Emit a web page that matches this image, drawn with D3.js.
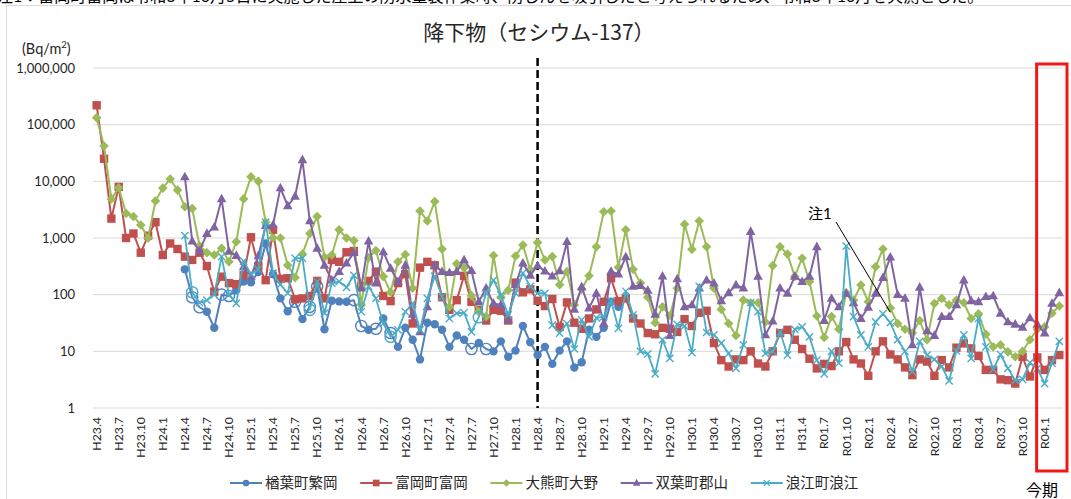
<!DOCTYPE html>
<html><head><meta charset="utf-8">
<script src="https://cdn.jsdelivr.net/npm/d3@7"></script>
<style>
body{margin:0;background:#fff}
svg{display:block}
text{font-family:Lato,"Noto Sans CJK JP",sans-serif;fill:#262626}
</style>
</head><body>
<svg id="c" width="1071" height="499"></svg>
<script>
// ---------------- data ----------------
const title = "降下物（セシウム-137）";
const unitLabel = "(Bq/m";
const seriesNames = ["楢葉町繁岡","富岡町富岡","大熊町大野","双葉町郡山","浪江町浪江"];
const seriesColors = ["#4F81BD","#C0504D","#9BBB59","#8064A2","#4BACC6"];
const nMonths = 132; // H23.4 .. R04.3
const tickLabels = ["H23.4","H23.7","H23.10","H24.1","H24.4","H24.7","H24.10","H25.1","H25.4","H25.7","H25.10",
  "H26.1","H26.4","H26.7","H26.10","H27.1","H27.4","H27.7","H27.10","H28.1","H28.4","H28.7","H28.10",
  "H29.1","H29.4","H29.7","H29.10","H30.1","H30.4","H30.7","H30.10","H31.1","H31.4","R01.7","R01.10",
  "R02.1","R02.4","R02.7","R02.10","R03.1","R03.4","R03.7","R03.10","R04.1"];
const yTicks = [1,10,100,1000,10000,100000,1000000];

const naraha = [null,null,null,null,null,null,null,null,null,null,
  null,null,280,90,60,50,26,100,95,120,
  170,165,250,800,230,86,51,75,37,61,
  140,24.5,78,76,75,80,28,24,25,38,
  21,12,26,16,7.2,32,30,24,12,19,
  16,11,14,11,10,15,8,10.3,28,14.5,
  8.6,12,6,10.3,15,5.2,6.4,24,18,26,
  75,61];
const narahaHollow = [13,14,17,18,27,29,30,35,36,38,40,51,53];

const tomioka = [220000,25000,2200,8000,1000,1200,550,1100,1900,500,
  800,640,470,410,550,320,113,208,160,153,
  220,1030,320,180,1400,190,195,83,86,95,
  175,86,410,380,560,590,142,175,255,95,
  77,160,230,31,300,380,330,90,54,80,
  215,75,54,35,54,52,35,163,110,124,
  78,63,84,27,73,32,25,38,55,75,
  195,77,86,38,31,21,20,26,25,22,
  37,28,48,52,14,7,5.4,7.2,7,10,
  6.1,5.4,10,21,24,16,11,7.4,5,6,
  5.5,10,14.6,7.2,6.1,3.7,10,15,8.8,7.2,
  5.2,3.8,7.2,6.6,3.7,7,5.2,11.6,13.8,11.3,
  8.3,4.7,4.7,3.2,3.1,2.7,8,3.6,7.8,4.7,
  7,8.6];

const okuma = [133000,42000,4900,7700,2700,2400,1700,1000,4500,7600,
  11000,7000,3550,3300,730,550,500,660,380,860,
  4900,12000,10000,1900,1000,1000,330,200,520,1200,
  2400,460,500,1400,1000,900,66,450,600,210,
  110,380,510,130,3000,2000,4400,640,61,350,
  300,96,50,41,490,90,120,480,750,275,
  830,410,470,150,255,66,125,215,700,2900,
  3000,305,1400,280,160,90,32,61,43,130,
  1750,630,2000,700,130,55,31,19,80,72,
  72,33,325,700,520,210,440,170,42,17.5,
  41,24.5,108,80,148,75,310,640,58,31,
  24.5,21,35,16,70,86,66,80,72,38,
  46,20,12,13,9.8,8,10,16,24.5,27,
  47,63];

const futaba = [null,null,null,null,null,null,null,null,null,null,
  null,null,12000,880,590,1200,1550,4900,580,490,
  310,210,485,1650,1700,7650,3700,5450,24000,2000,
  660,330,180,255,360,550,130,880,160,570,
  290,170,330,45,22,61,330,255,245,255,
  410,265,75,130,70,66,36,150,360,220,
  325,260,212,262,860,55,138,58,106,31,
  258,230,465,140,145,119,45,212,19,190,
  61,66,130,180,160,78,108,148,130,1300,
  210,19.5,34,130,105,210,170,210,700,35,
  86,61,105,72,38,60,105,200,460,100,
  86,13,135,23,19,41,41,66,180,78,
  75,92,95,47,33,30,26.5,39,30,21,
  70,108];

const namie = [null,null,null,null,null,null,null,null,null,null,
  null,null,1100,110,72,80,100,470,100,70,
  390,230,280,1900,240,150,106,440,440,54,
  170,47,160,170,135,220,50,140,86,31,
  18,24,50,70,24,86,210,92,38,47,
  48,22,40,106,180,98,44,106,240,140,
  106,106,29,21,31,11,36,18,39,41,
  78,25.5,115,44,10,9,4,16,7.5,30,
  28,9.5,140,21.5,19.5,14,9.2,5,13,72,
  50,9.2,10,22,8.6,24.5,27,18,7,4,
  10,6.2,720,41,19.5,12,33,46,32,16,
  10,4.4,15,8.6,7.2,5.4,3,10.2,19.5,7.5,
  38,12,4.8,8.8,5,3.1,3.2,6.3,5,2.7,
  6.2,15];
const namieHollow = [13,29,40,52];

const dividerIndex = 60;      // H28.4
const currentStart = 129;     // R04.1 (今期)
const note1Index = 108, note1Value = 49;

// ---------------- layout ----------------
const svg = d3.select("#c");
const L = 93, R = 1063, T = 68, B = 408;
const x = d3.scaleBand().domain(d3.range(nMonths)).range([L, R]);
const cx = i => x(i) + x.bandwidth() / 2;
const y = d3.scaleLog().domain([1, 1e6]).range([B, T]);

svg.append("rect").attr("width",1071).attr("height",499).attr("fill","#fff");
// outer chart frame
svg.append("rect").attr("x",6.5).attr("y",5.5).attr("width",1100).attr("height",600)
  .attr("fill","none").attr("stroke","#d9d9d9");
// note line at the very top (cut off by the page edge, as in the source)
svg.append("text").attr("x",-3).attr("y",2).attr("font-size",16).style("fill","#000")
  .text("注1：富岡町富岡は令和3年10月5日に実施した屋上の防水塗装作業時、防じんを吸引したと考えられるため、令和3年10月を欠測とした。");

// gridlines
svg.append("g").selectAll("line").data(yTicks).join("line")
  .attr("x1",L).attr("x2",R).attr("y1",d=>y(d)).attr("y2",d=>y(d))
  .attr("stroke","#d9d9d9").attr("stroke-width",1);

// y axis labels
const yAxis = d3.axisLeft(y).tickValues(yTicks).tickFormat(d3.format(",")).tickSize(0).tickPadding(18);
const gy = svg.append("g").attr("transform",`translate(${L},0)`).call(yAxis);
gy.select(".domain").remove();
gy.selectAll("text").attr("font-size",13).style("font-family","Lato,sans-serif").style("fill","#262626");

// unit label
const ul = svg.append("text").attr("x",22).attr("y",54).attr("font-size",14.5);
ul.append("tspan").text(unitLabel);
ul.append("tspan").attr("dy",-6).attr("font-size",9.5).text("2");
ul.append("tspan").attr("dy",6).text(")");

// title
svg.append("text").attr("x",539).attr("y",40).attr("text-anchor","middle").attr("font-size",21)
  .style("font-family",'"Noto Sans CJK JP",sans-serif').text(title);

// x tick labels
svg.append("g").selectAll("text").data(tickLabels).join("text")
  .attr("transform",(d,k)=>`translate(${cx(k*3)},417) rotate(-90)`)
  .attr("text-anchor","end").attr("dy","0.35em").attr("font-size",12.3).text(d=>d);

// divider dashed line
svg.append("line").attr("x1",cx(dividerIndex)).attr("x2",cx(dividerIndex)).attr("y1",58).attr("y2",B)
  .attr("stroke","#000").attr("stroke-width",2.5).attr("stroke-dasharray","8,4");

// series
const series = [
  {name:seriesNames[0], vals:naraha,  color:seriesColors[0], shape:"circle",  hollow:narahaHollow},
  {name:seriesNames[1], vals:tomioka, color:seriesColors[1], shape:"square",  hollow:[]},
  {name:seriesNames[2], vals:okuma,   color:seriesColors[2], shape:"diamond", hollow:[]},
  {name:seriesNames[3], vals:futaba,  color:seriesColors[3], shape:"triangle",hollow:[]},
  {name:seriesNames[4], vals:namie,   color:seriesColors[4], shape:"x",       hollow:namieHollow}
];
function drawMarker(g, shape, color, scale){
  const s = scale||1;
  if(shape==="circle") g.append("circle").attr("r",4.2*s).attr("fill",color);
  else if(shape==="square") g.append("rect").attr("x",-4.2*s).attr("y",-4.2*s).attr("width",8.4*s).attr("height",8.4*s).attr("fill",color);
  else if(shape==="diamond") g.append("path").attr("d",`M0,${-4.8*s}L${4.8*s},0L0,${4.8*s}L${-4.8*s},0Z`).attr("fill",color);
  else if(shape==="triangle") g.append("path").attr("d",`M0,${-5.2*s}L${4.8*s},${3.4*s}L${-4.8*s},${3.4*s}Z`).attr("fill",color);
  else if(shape==="x") g.append("path").attr("d",`M${-3.6*s},${-3.6*s}L${3.6*s},${3.6*s}M${-3.6*s},${3.6*s}L${3.6*s},${-3.6*s}`)
      .attr("stroke",color).attr("stroke-width",1.4).attr("fill","none");
}
const line = d3.line().defined(d=>d.v!=null).x(d=>cx(d.i)).y(d=>y(d.v));
series.forEach(s=>{
  const pts = s.vals.map((v,i)=>({i,v}));
  const g = svg.append("g");
  g.append("path").datum(pts).attr("d",line).attr("fill","none").attr("stroke",s.color)
    .attr("stroke-width",s.shape==="x"?1.8:2).attr("stroke-linejoin","round");
  pts.filter(p=>p.v!=null).forEach(p=>{
    const mg = g.append("g").attr("transform",`translate(${cx(p.i)},${y(p.v)})`);
    if(s.hollow.includes(p.i)) mg.append("circle").attr("r",5.6).attr("fill","none").attr("stroke",s.color).attr("stroke-width",1.4);
    else drawMarker(mg, s.shape, s.color);
  });
});

// note 1 annotation
svg.append("text").attr("x",808).attr("y",219).attr("font-size",15).style("fill","#000").text("注1");
svg.append("line").attr("x1",836).attr("y1",222).attr("x2",cx(note1Index)).attr("y2",y(note1Value))
  .attr("stroke","#000").attr("stroke-width",1);

// 今期 box
svg.append("rect").attr("x",cx(currentStart)-8).attr("y",64).attr("width",R+4-(cx(currentStart)-8)).attr("height",407)
  .attr("fill","none").attr("stroke","#f01818").attr("stroke-width",3);
svg.append("text").attr("x",1042).attr("y",496).attr("text-anchor","middle").attr("font-size",16).style("fill","#000").text("今期");

// legend
const lg = svg.append("g").attr("transform","translate(230,483)");
series.forEach((s,k)=>{
  const g = lg.append("g").attr("transform",`translate(${k*130.2},0)`);
  g.append("line").attr("x1",0).attr("x2",32).attr("stroke",s.color).attr("stroke-width",2);
  const mg = g.append("g").attr("transform","translate(16,0)");
  drawMarker(mg, s.shape, s.color, 0.8);
  g.append("text").attr("x",35).attr("dy","0.35em").attr("font-size",14.5).text(s.name);
});
</script>
</body></html>
